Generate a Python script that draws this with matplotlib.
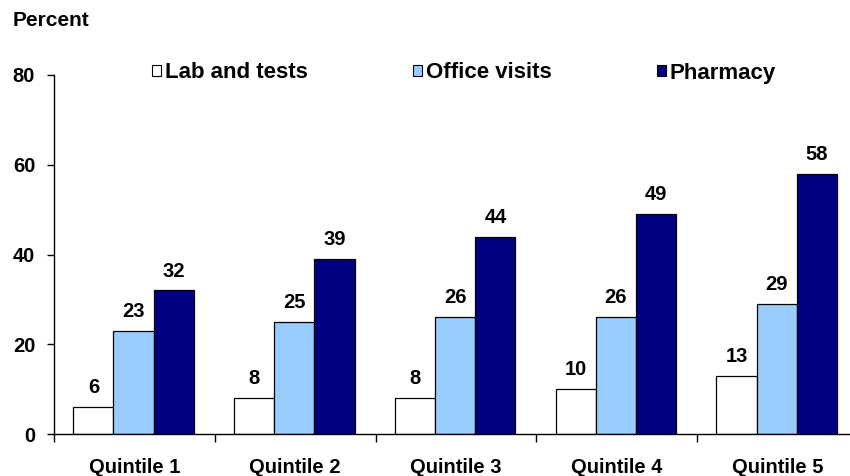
import matplotlib

matplotlib.use("Agg")
import matplotlib.pyplot as plt
import numpy as np
from matplotlib.patches import Patch

# data
quintiles = ["Quintile 1", "Quintile 2", "Quintile 3", "Quintile 4", "Quintile 5"]
lab_tests = [6, 8, 8, 10, 13]
office_visits = [23, 25, 26, 26, 29]
pharmacy = [32, 39, 44, 49, 58]
series_names = ["Lab and tests", "Office visits", "Pharmacy"]
yticks = [0, 20, 40, 60, 80]

colors = ["#FFFFFF", "#99CCFF", "#000080"]

plt.rcParams.update(
    {
        "font.family": ["Liberation Sans", "DejaVu Sans"],
        "font.weight": "bold",
        "font.size": 14.5,
    }
)

fig = plt.figure(figsize=(8.5, 4.76), dpi=100)
# axes run past the right edge of the figure, as in the reference
ax = fig.add_axes([54 / 850, 42 / 476, 804 / 850, 359 / 476])

x = np.arange(len(quintiles))
width = 0.25
for i, (vals, color) in enumerate(zip([lab_tests, office_visits, pharmacy], colors)):
    xs = x + (i - 1) * width - 0.005
    bars = ax.bar(xs, vals, width, color=color, edgecolor="black", linewidth=0.9, zorder=2)
    for b, v in zip(bars, vals):
        ax.annotate(
            f"{v}",
            (b.get_x() + b.get_width() / 2, v),
            xytext=(0, 10),
            textcoords="offset points",
            ha="center",
            va="baseline",
            fontweight="bold",
            fontsize=14.5,
        )

ax.set_xlim(-0.5, len(quintiles) - 0.5)
ax.set_ylim(0, 80)
ax.set_yticks(yticks)
ax.set_xticks(x)
ax.set_xticklabels(quintiles, fontweight="bold")
ax.set_xticks(np.arange(-0.5, len(quintiles), 1.0), minor=True)
ax.tick_params(axis="x", which="major", length=0, pad=17)
ax.tick_params(axis="x", which="minor", length=6, width=1, direction="out")
ax.tick_params(axis="y", length=5, width=1, direction="out", pad=8.5)
for lbl in ax.get_yticklabels():
    lbl.set_fontweight("bold")

for side in ["top", "right"]:
    ax.spines[side].set_visible(False)
ax.spines["left"].set_linewidth(1)
ax.spines["bottom"].set_linewidth(1)

handles = [Patch(facecolor=c, edgecolor="black", linewidth=0.8) for c in colors]
fig.legend(
    handles,
    series_names,
    loc="center left",
    bbox_to_anchor=(152 / 850, 1 - 73 / 476),
    ncol=3,
    frameon=False,
    borderpad=0,
    borderaxespad=0,
    handlelength=0.42,
    handleheight=0.42,
    handletextpad=0.15,
    columnspacing=4.75,
    prop={"weight": "bold", "size": 16},
)

fig.text(13 / 850, 1 - 21 / 476, "Percent", ha="left", va="center", fontweight="bold", fontsize=15)

fig.savefig("out.png", dpi=100)
